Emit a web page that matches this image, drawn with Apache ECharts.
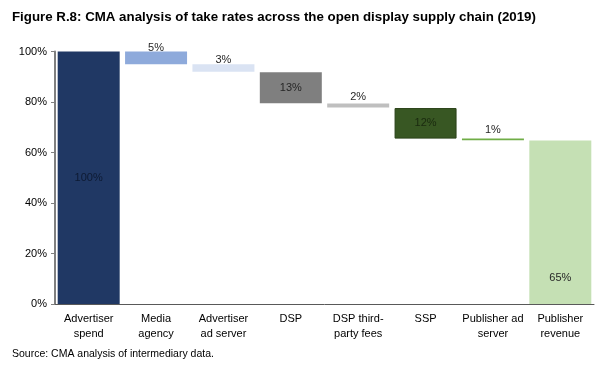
<!DOCTYPE html>
<html><head><meta charset="utf-8">
<script src="https://cdn.jsdelivr.net/npm/echarts@6/dist/echarts.min.js"></script>
<style>html,body{margin:0;padding:0;background:#fff}#c{width:602px;height:369px}</style>
</head><body><div id="c"></div>
<script>
const categories = ['Advertiser\nspend','Media\nagency','Advertiser\nad server','DSP','DSP third-\nparty fees','SSP','Publisher ad\nserver','Publisher\nrevenue'];
const barTop    = [100, 100, 95, 91.8, 79.4, 77.6, 65.5, 64.8];
const barBottom = [0, 95, 92, 79.5, 77.8, 65.5, 64.9, 0];
const valueLabels = ['100%','5%','3%','13%','2%','12%','1%','65%'];
const yTicks = [0, 20, 40, 60, 80, 100];

const colors = ['#203864','#8eaadb','#dae3f3','#7f7f7f','#bfbfbf','#385723','#70ad47','#c5e0b4'];
const labelPos = ['inside','top','top','inside','top','inside','top','insideBottom'];
const labelDist = [0, -1.5, -1.5, 0, 1, 0, 3, 21];

const base = barBottom.map(v => v);
const visible = barTop.map((t,i) => ({
  value: +(t - barBottom[i]).toFixed(2),
  itemStyle: {color: colors[i], borderColor: i===5 ? '#2a4219' : colors[i], borderWidth: i===5 ? 1 : 0},
  label: {
    show: true,
    position: labelPos[i],
    distance: labelDist[i],
    formatter: () => valueLabels[i],
    color: i===0 ? '#0d1a33' : (i===5 ? '#1a2a0f' : '#262626'),
    fontSize: 11, fontFamily: 'Liberation Sans'
  }
}));

const chart = echarts.init(document.getElementById('c'), null, {renderer:'canvas'});
chart.setOption({
  animation: false,
  title: [{
    text: 'Figure R.8: CMA analysis of take rates across the open display supply chain (2019)',
    left: 7, top: 6,
    textStyle: {fontFamily:'Liberation Sans', fontWeight:'bold', fontSize:13.3, color:'#000'}
  },{
    text: 'Source: CMA analysis of intermediary data.',
    left: 7, top: 344,
    textStyle: {fontFamily:'Liberation Sans', fontWeight:'normal', fontSize:10.5, color:'#000'}
  }],
  grid: {left: 55, right: 8, top: 51.5, bottom: 65, containLabel: false},
  xAxis: {
    type: 'category', data: categories,
    axisLine: {lineStyle: {color:'#595959', width:1}},
    axisTick: {show:false},
    axisLabel: {color:'#000', fontSize:11, fontFamily:'Liberation Sans', lineHeight:15, margin:7, interval:0}
  },
  yAxis: {
    type: 'value', min: 0, max: 100, interval: 20,
    axisLine: {show:true, lineStyle: {color:'#7f7f7f', width:2}},
    axisTick: {show:true, length:4, lineStyle:{color:'#7f7f7f'}},
    splitLine: {show:false},
    axisLabel: {color:'#000', fontSize:11, fontFamily:'Liberation Sans', margin:8,
      formatter: v => yTicks.includes(v) ? v + '%' : ''}
  },
  series: [{
    type:'bar', stack:'w', data: base, barCategoryGap:'8%',
    itemStyle:{color:'transparent'}, silent:true
  },{
    type:'bar', stack:'w', data: visible, barCategoryGap:'8%'
  }]
});
</script></body></html>
